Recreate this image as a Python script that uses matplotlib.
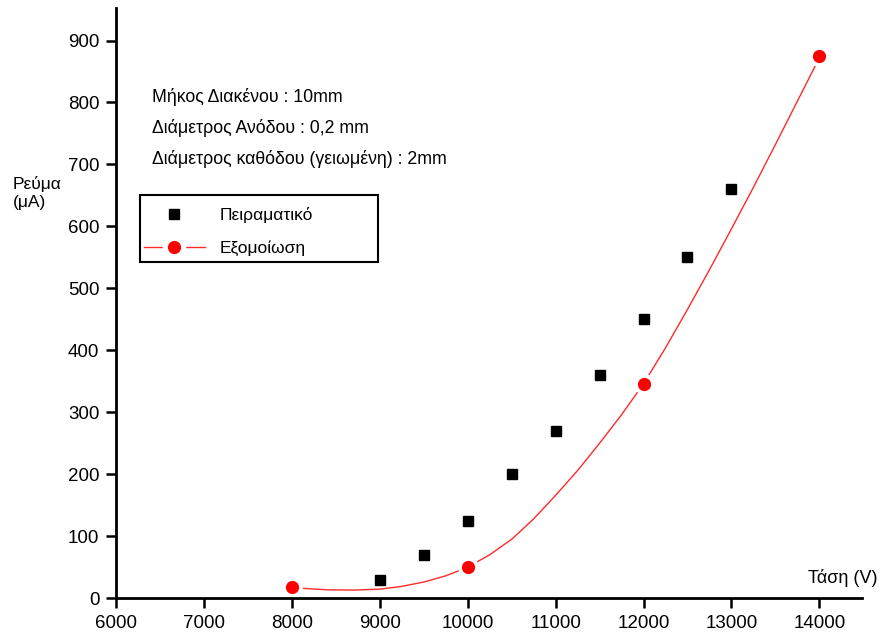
import matplotlib
matplotlib.use("Agg")
import matplotlib.pyplot as plt
from matplotlib.lines import Line2D
from matplotlib.patches import Rectangle
from matplotlib.legend_handler import HandlerTuple

plt.rcParams['font.family'] = ['Liberation Sans', 'DejaVu Sans']

# Experimental data
exp_voltage = [9000, 9500, 10000, 10500, 11000, 11500, 12000, 12500, 13000]
exp_current = [30, 70, 125, 200, 270, 360, 450, 550, 660]

# Simulation points
sim_voltage = [8000, 10000, 12000, 14000]
sim_current = [18, 50, 346, 875]

# Simulation curve
curve_voltage = [8100, 8400, 8700, 9000, 9250, 9500, 9750, 10000, 10250, 10500,
                 10750, 11000, 11250, 11500, 11750, 12000, 12250, 12500, 12750,
                 13000, 13250, 13500, 13750, 13950]
curve_current = [16, 13.5, 13, 14.5, 19, 26, 36, 50, 70, 95,
                 128, 166, 206, 250, 296, 346, 404, 466, 530,
                 596, 663, 732, 802, 858]

x_ticks = [6000, 7000, 8000, 9000, 10000, 11000, 12000, 13000, 14000]
y_ticks = [0, 100, 200, 300, 400, 500, 600, 700, 800, 900]

info_lines = ["Μήκος Διακένου : 10mm",
              "Διάμετρος Ανόδου : 0,2 mm",
              "Διάμετρος καθόδου (γειωμένη) : 2mm"]

RED = '#ff0000'
LINE_RED = '#ff2a2a'

fig = plt.figure(figsize=(8.8, 6.37), dpi=100)
ax = fig.add_axes([0.132, 0.061, 0.848, 0.926])

ax.plot(curve_voltage, curve_current, color=LINE_RED, lw=1.0, zorder=2)
ax.plot(sim_voltage, sim_current, linestyle='none', marker='o', markersize=15,
        markerfacecolor='white', markeredgewidth=0, zorder=2.5)
ax.plot(sim_voltage, sim_current, linestyle='none', marker='o', markersize=9.5,
        markerfacecolor=RED, markeredgewidth=0, zorder=3)
ax.plot(exp_voltage, exp_current, linestyle='none', marker='s', markersize=7.5,
        color='black', zorder=3)

ax.set_xlim(6000, 14490)
ax.set_ylim(0, 952)
ax.set_xticks(x_ticks)
ax.set_yticks(y_ticks)

for s in ['top', 'right']:
    ax.spines[s].set_visible(False)
for s in ['left', 'bottom']:
    ax.spines[s].set_linewidth(2.0)
ax.tick_params(direction='out', length=7, width=1.8, labelsize=13.5, pad=5,
               colors='black')

# Legend
h_exp = Line2D([], [], linestyle='none', marker='s', markersize=7.5, color='black')
h_line = Line2D([], [], color=LINE_RED, lw=1.0)
h_gap = Line2D([], [], linestyle='none', marker='o', markersize=17,
               markerfacecolor='white', markeredgewidth=0)
h_dot = Line2D([], [], linestyle='none', marker='o', markersize=9.5,
               markerfacecolor=RED, markeredgewidth=0)
leg = fig.legend([h_exp, (h_line, h_gap, h_dot)], ['Πειραματικό', 'Εξομοίωση'],
                 handler_map={tuple: HandlerTuple(ndivide=1, pad=0)},
                 loc='center left', bbox_to_anchor=(144 / 880, 1 - 231.5 / 637),
                 bbox_transform=fig.transFigure,
                 fontsize=12.5, frameon=False, handlelength=3.5,
                 handletextpad=0.85, borderpad=0, labelspacing=1.05,
                 borderaxespad=0)
fig.add_artist(Rectangle((140 / 880, 1 - 262 / 637), 238 / 880, 67 / 637,
                         transform=fig.transFigure, fill=False,
                         edgecolor='black', linewidth=1.5))

# Info text
for i, t in enumerate(info_lines):
    fig.text(152 / 880, 1 - (97 + 31 * i) / 637, t, fontsize=12.8, va='center', ha='left')

fig.text(13 / 880, 1 - 193 / 637, "Ρεύμα\n(μA)", fontsize=12.5, va='center', ha='left',
         color='black', linespacing=1.3)
fig.text(877 / 880, 1 - 578 / 637, "Τάση (V)", fontsize=13, va='center', ha='right')

fig.savefig("out.png", dpi=100)
